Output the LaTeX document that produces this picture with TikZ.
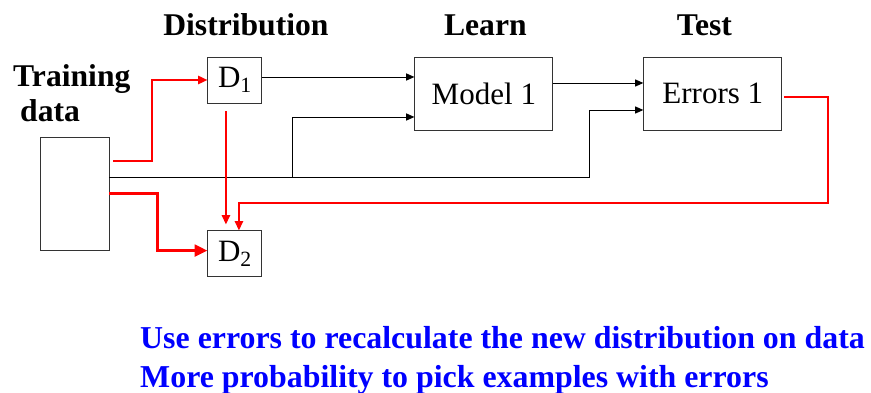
\documentclass[tikz,border=0pt]{standalone}
\usepackage{fontspec}
\setmainfont{Liberation Serif}
\usetikzlibrary{positioning,arrows.meta}

\begin{document}
\begin{tikzpicture}[
    boxnode/.style={rectangle, draw=black!80, line width=0.8pt, inner sep=0pt},
    headnode/.style={font=\fontsize{27}{30.6}\selectfont\bfseries, inner sep=0pt},
    blackline/.style={line width=0.8pt, -{Triangle[length=7pt,width=6pt]}},
    redline/.style={red, line width=1.7pt, -{Triangle[length=8pt,width=7pt]}},
    thickred/.style={red, line width=2.6pt, -{Triangle[length=11pt,width=10pt]}},
    font=\fontsize{26.5}{30.6}\selectfont,
    ]
\useasboundingbox (0,0) rectangle (26.13,-11.79);

%Nodes
\node[boxnode, minimum width=2.07cm, minimum height=3.39cm] (train) at (2.235,-5.805) {};
\node[boxnode, minimum width=1.62cm, minimum height=1.38cm, above right=2.4cm and 2.94cm of train.north east, anchor=north west] (D1) {D\textsubscript{1}};
\node[boxnode, minimum width=4.14cm, minimum height=2.19cm, right=4.56cm of D1.north east, anchor=north west] (model) {Model 1};
\node[boxnode, minimum width=4.14cm, minimum height=2.19cm, right=2.7cm of model] (errors) {Errors 1};
\node[boxnode, minimum width=1.62cm, minimum height=1.38cm, below=3.81cm of D1] (D2) {D\textsubscript{2}};

%Labels
\node[headnode, above=0.63cm of D1.north, anchor=base, xshift=0.33cm] (distlabel) {Distribution};
\node[headnode, above=0.63cm of model.north, anchor=base, xshift=0.045cm] (learnlabel) {Learn};
\node[headnode, above=0.63cm of errors.north, anchor=base, xshift=-0.255cm] (testlabel) {Test};
\node[headnode, align=left, anchor=base west] (trainlabel) at (0.39,-3.66) {Training\\\hspace{0.21cm}data};
\node[headnode, font=\fontsize{27.2}{33}\selectfont\bfseries, text=blue, align=left, anchor=base west] (note) at (4.2,-11.61)
    {Use errors to recalculate the new distribution on data\\More probability to pick examples with errors};

%Lines
\coordinate (bus) at ([yshift=0.495cm]train.east);
\coordinate (d1out) at ([yshift=0.09cm]D1.east);
\coordinate (m1out) at ([yshift=0.315cm]model.east);
\draw[blackline] (d1out) -- (d1out -| model.west);
\draw[blackline] (m1out) -- (m1out -| errors.west);
\draw[blackline] (bus) -- ++(5.49,0) |- ([yshift=-0.705cm]model.west);
\draw[blackline] (bus) -- ++(14.4,0) |- ([yshift=-0.495cm]errors.west);

\draw[redline] ([shift={(0.12,-0.72)}]train.north east) -- ++(1.17,0) |- (D1.west);
\draw[redline] ([shift={(-0.27,-0.24)}]D1.south) -- ([shift={(-0.27,0.18)}]D2.north);
\draw[thickred] (train.east) -- ++(1.44,0) |- ([yshift=0.1cm]D2.west);
\draw[redline] ([shift={(0.06,-0.1)}]errors.east) -- ++(1.32,0) -- ++(0,-3.18) -| ([xshift=0.12cm]D2.north);
\end{tikzpicture}
\end{document}
